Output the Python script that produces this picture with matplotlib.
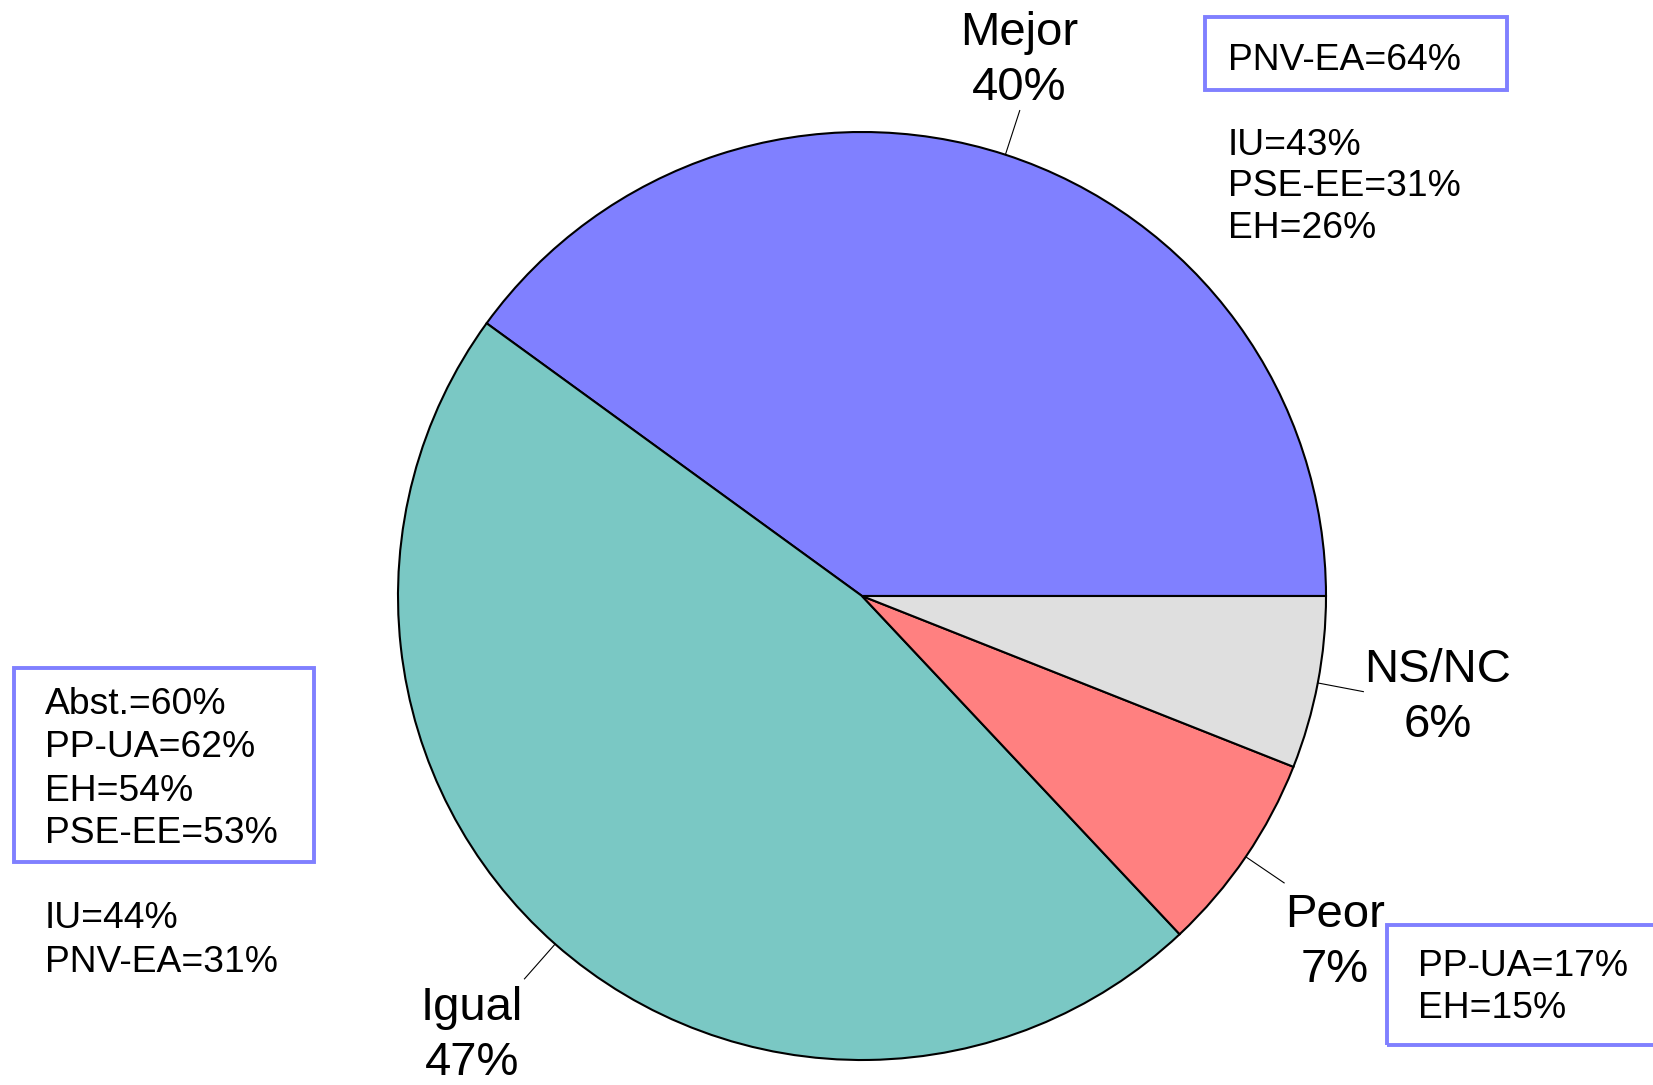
#!/usr/bin/env python3

import numpy as np
import matplotlib
matplotlib.use('Agg')
import matplotlib.pyplot as plt
from matplotlib.patches import Rectangle

# pie data
categories = ['Mejor', 'Igual', 'Peor', 'NS/NC']
values = [40, 47, 7, 6]
pct_labels = ['40%', '47%', '7%', '6%']
slice_colors = ['#8080FF', '#7AC8C4', '#FF8080', '#DFDFDF']

# party breakdown notes
mejor_boxed = ['PNV-EA=64%']
mejor_rest = ['IU=43%', 'PSE-EE=31%', 'EH=26%']
igual_boxed = ['Abst.=60%', 'PP-UA=62%', 'EH=54%', 'PSE-EE=53%']
igual_rest = ['IU=44%', 'PNV-EA=31%']
peor_boxed = ['PP-UA=17%', 'EH=15%']

W, H = 1653, 1085
plt.rcParams['font.family'] = ['Liberation Sans', 'DejaVu Sans']

fig = plt.figure(figsize=(W / 100, H / 100), dpi=100)
ax = fig.add_axes([0, 0, 1, 1])

cx, cy, r = 862, H - 596, 464
ax.pie(values, colors=slice_colors, startangle=0, counterclock=True,
       center=(cx, cy), radius=r,
       wedgeprops=dict(edgecolor='black', linewidth=1.5))
ax.set_xlim(0, W)
ax.set_ylim(0, H)
ax.set_aspect('equal')
ax.axis('off')

# radial leader lines at each slice's mid angle
bounds = np.concatenate([[0], np.cumsum(values)]) / sum(values) * 360
mids = np.radians((bounds[:-1] + bounds[1:]) / 2)
for a in mids:
    ax.plot([cx + r * np.cos(a), cx + 1.1 * r * np.cos(a)],
            [cy + r * np.sin(a), cy + 1.1 * r * np.sin(a)],
            color='black', lw=0.8)

def lines(x, baselines, texts, size, ha='left'):
    for b, t in zip(baselines, texts):
        ax.text(x, H - b, t, fontsize=size, ha=ha, va='baseline')

# category labels (x centre, first baseline)
label_pos = {'Mejor': (1019, 45), 'Igual': (472, 1020),
             'Peor': (1335, 927), 'NS/NC': (1438, 682)}
for cat, pct in zip(categories, pct_labels):
    x, b = label_pos[cat]
    lines(x, [b, b + 55], [cat, pct], 34, ha='center')

def box(x0, y0, x1, y1):
    ax.add_patch(Rectangle((x0, H - y1), x1 - x0, y1 - y0, fill=False,
                           edgecolor='#8080FF', lw=2.8, clip_on=False))

fs = 26.8
box(1205, 17, 1507, 90)
lines(1228, [70], mejor_boxed, fs)
lines(1228, [155, 196, 238], mejor_rest, fs)

box(14, 668, 314, 862)
lines(45, [714, 757, 801, 843], igual_boxed, fs)
lines(45, [928, 972], igual_rest, fs)

box(1387, 925, 1720, 1045)
lines(1418, [976, 1018], peor_boxed, fs)

fig.savefig('out.png', dpi=100)
